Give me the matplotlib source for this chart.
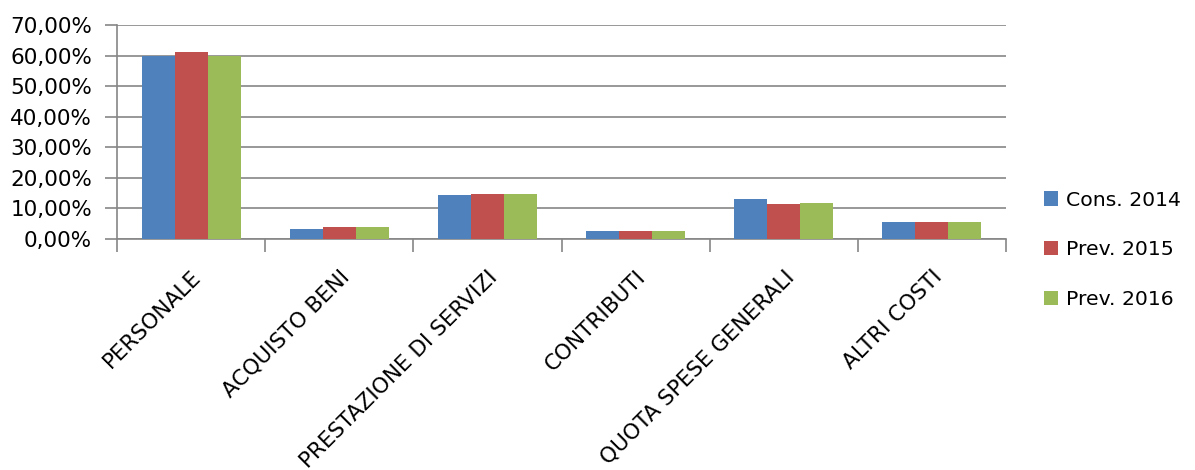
import matplotlib
matplotlib.use("Agg")
import matplotlib.pyplot as plt
import numpy as np
from matplotlib.ticker import FuncFormatter, FixedLocator, NullFormatter

categories = ["PERSONALE", "ACQUISTO BENI", "PRESTAZIONE DI SERVIZI",
              "CONTRIBUTI", "QUOTA SPESE GENERALI", "ALTRI COSTI"]
series_names = ["Cons. 2014", "Prev. 2015", "Prev. 2016"]
cons_2014 = [60.0, 3.3, 14.4, 2.6, 13.1, 5.6]
prev_2015 = [61.2, 3.9, 14.7, 2.6, 11.5, 5.6]
prev_2016 = [60.0, 3.9, 14.7, 2.6, 11.8, 5.6]
colors = ["#4F81BD", "#C0504D", "#9BBB59"]

plt.rcParams['font.family'] = ['DejaVu Sans']
fig = plt.figure(figsize=(11.95, 4.7), dpi=100)
ax = fig.add_axes([117/1195, 1-239/470, (1006-117)/1195, (239-25)/470])

x = np.arange(len(categories))
w = 0.223
for i, (vals, name, c) in enumerate(zip([cons_2014, prev_2015, prev_2016], series_names, colors)):
    ax.bar(x + (i-1)*w, vals, width=w, color=c, label=name, zorder=3)

ax.set_xlim(-0.5, len(categories)-0.5)
ax.set_ylim(0, 70)
ax.set_yticks(np.arange(0, 71, 10))
ax.yaxis.set_major_formatter(FuncFormatter(lambda v, p: f"{v:.2f}".replace('.', ',') + "%"))
ax.yaxis.grid(True, color="#868686", linewidth=1.2, zorder=0)
ax.set_axisbelow(True)

ax.xaxis.set_major_locator(FixedLocator(np.arange(-0.5, len(categories), 1.0)))
ax.xaxis.set_major_formatter(NullFormatter())
ax.xaxis.set_minor_locator(FixedLocator(x))
ax.set_xticklabels(categories, minor=True, rotation=45, ha='right', rotation_mode='anchor')
ax.tick_params(axis='x', which='minor', length=0, pad=20, labelsize=15.5)
ax.tick_params(axis='x', which='major', length=9, color="#868686", width=1.2)
ax.tick_params(axis='y', length=9, color="#868686", width=1.2, labelsize=15.5, pad=9)

for s in ['top', 'right']:
    ax.spines[s].set_visible(False)
for s in ['left', 'bottom']:
    ax.spines[s].set_color("#868686")
    ax.spines[s].set_linewidth(1.2)

ax.legend(loc='center left', bbox_to_anchor=(1.022, -0.05), frameon=False,
          fontsize=14.7, handlelength=0.7, handleheight=0.7, handletextpad=0.4,
          labelspacing=1.5)

fig.savefig("out.png", dpi=100)
